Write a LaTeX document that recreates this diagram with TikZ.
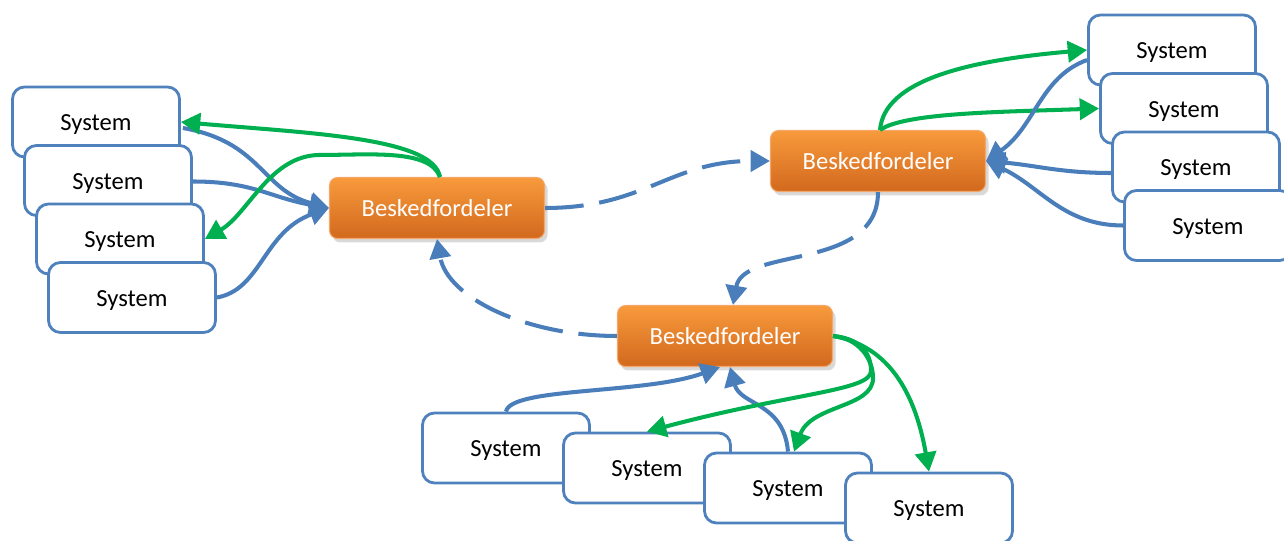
\documentclass[tikz,border=0pt]{standalone}
\usepackage{fontspec}
\setmainfont{Carlito}
\usetikzlibrary{arrows.meta,positioning,calc,shadows}

\definecolor{sysblue}{HTML}{4F81BD}
\definecolor{lineblue}{HTML}{4A7EBB}
\definecolor{pushgreen}{HTML}{00B050}
\definecolor{boxtop}{HTML}{F89A3C}
\definecolor{boxbot}{HTML}{D2691E}
\definecolor{boxrim}{HTML}{F3A76A}

\begin{document}
\begin{tikzpicture}[->,>={Triangle[length=11pt,width=12pt]},x=0.2mm,y=0.2mm,
                    node distance=1.17cm,line width=2.3pt]
  \tikzstyle{system}=[draw=sysblue,line width=1.6pt,fill=white,rounded corners=2.4mm,
                      minimum width=3.34cm,minimum height=1.4cm,inner sep=0pt,
                      text height=12.5pt,text depth=2.7pt,
                      font=\fontsize{14}{16}\selectfont]
  \tikzstyle{broker}=[draw=boxrim,line width=0.6pt,rounded corners=1.6mm,
                      top color=boxtop,bottom color=boxbot,text=white,
                      minimum width=4.3cm,minimum height=1.22cm,inner sep=0pt,
                      drop shadow={opacity=0.3,shadow xshift=0.6mm,shadow yshift=-0.8mm},
                      font=\fontsize{14}{16}\selectfont]
  \tikzstyle{feed}=[draw=lineblue]
  \tikzstyle{push}=[draw=pushgreen]
  \tikzstyle{link}=[draw=lineblue,dash pattern=on 22pt off 9pt]

  \useasboundingbox (0,0) rectangle (1284,-541);

  % left stack
  \node[system] (L1) at (96,-122) {System};
  \node[system] (L2) [below of=L1,xshift=2.4mm] {System};
  \node[system] (L3) [below of=L2,xshift=2.4mm] {System};
  \node[system] (L4) [below of=L3,xshift=2.4mm] {System};

  % right stack
  \node[system] (R1) at (1172,-50) {System};
  \node[system] (R2) [below of=R1,xshift=2.4mm] {System};
  \node[system] (R3) [below of=R2,xshift=2.4mm] {System};
  \node[system] (R4) [below of=R3,xshift=2.4mm] {System};

  % bottom stack
  \node[system] (S1) at (506,-448) {System};
  \node[system] (S2) [node distance=2.82cm,right of=S1,yshift=-4mm] {System};
  \node[system] (S3) [node distance=2.82cm,right of=S2,yshift=-4mm] {System};
  \node[system] (S4) [node distance=2.82cm,right of=S3,yshift=-4mm] {System};

  \node[broker] (BL) at (437,-208) {Beskedfordeler};
  \node[broker] (BR) at (878,-161) {Beskedfordeler};
  \node[broker] (BB) at (725,-336) {Beskedfordeler};

  % left
  \path ($(L1.east)+(2,-6)$) edge[feed,out=-10,in=165,out distance=16mm,in distance=14mm] (BL.west)
        ($(L2.east)+(0,-1)$) edge[feed,out=0,in=170,out distance=12mm,in distance=12mm] (BL.west)
        (L4.east) edge[feed,out=10,in=200,out distance=9mm,in distance=14mm] (BL.west);
  \path ($(BL.north)+(3,0)$) edge[push,out=100,in=-5,out distance=8mm,in distance=26mm] (L1.east);
  \draw[push] ($(BL.north)+(3,0)$) to[out=110,in=0,out distance=6mm,in distance=10mm] ++(-120,22)
              to[out=180,in=30,out distance=10mm,in distance=10mm] (L3.east);

  % brokers
  \path (BL.east) edge[link,out=0,in=180,out distance=20mm,in distance=20mm] (BR.west)
        (BR.south) edge[link,out=-90,in=80,out distance=16mm,in distance=12mm] ($(BB.north)+(8,0)$)
        (BB.west) edge[link,out=180,in=-80,out distance=18mm,in distance=12mm] (BL.south);

  % right
  \path ($(BR.north)+(2,0)$) edge[push,out=85,in=185,out distance=10mm,in distance=24mm] (R1.west)
        ($(BR.north)+(2,0)$) edge[push,out=35,in=182,out distance=6mm,in distance=20mm] (R2.west);
  \path ($(R1.west)+(0,-10)$) edge[feed,out=200,in=35,out distance=10mm,in distance=12mm] (BR.east)
        ($(R3.west)+(0,-6)$) edge[feed,out=180,in=-5,out distance=10mm,in distance=10mm] (BR.east)
        (R4.west) edge[feed,out=180,in=-25,out distance=12mm,in distance=12mm] (BR.east);

  % bottom
  \path (S1.north) edge[feed,out=80,in=200,out distance=5mm,in distance=16mm] ($(BB.south)+(-5,0)$)
        (S3.north) edge[feed,out=95,in=-75,out distance=10mm,in distance=8mm] ($(BB.south)+(5,0)$);
  \draw[push] (BB.east) to[out=-5,in=90,out distance=5mm,in distance=4mm] ++(38,-35)
              to[out=-90,in=15,out distance=4mm,in distance=30mm] (S2.north);
  \draw[push] (BB.east) to[out=-5,in=90,out distance=5mm,in distance=4mm] ++(40,-42)
              to[out=-90,in=70,out distance=6mm,in distance=10mm] ($(S3.north)+(6,0)$);
  \path (BB.east) edge[push,out=-10,in=100,out distance=10mm,in distance=18mm] (S4.north);
\end{tikzpicture}
\end{document}
